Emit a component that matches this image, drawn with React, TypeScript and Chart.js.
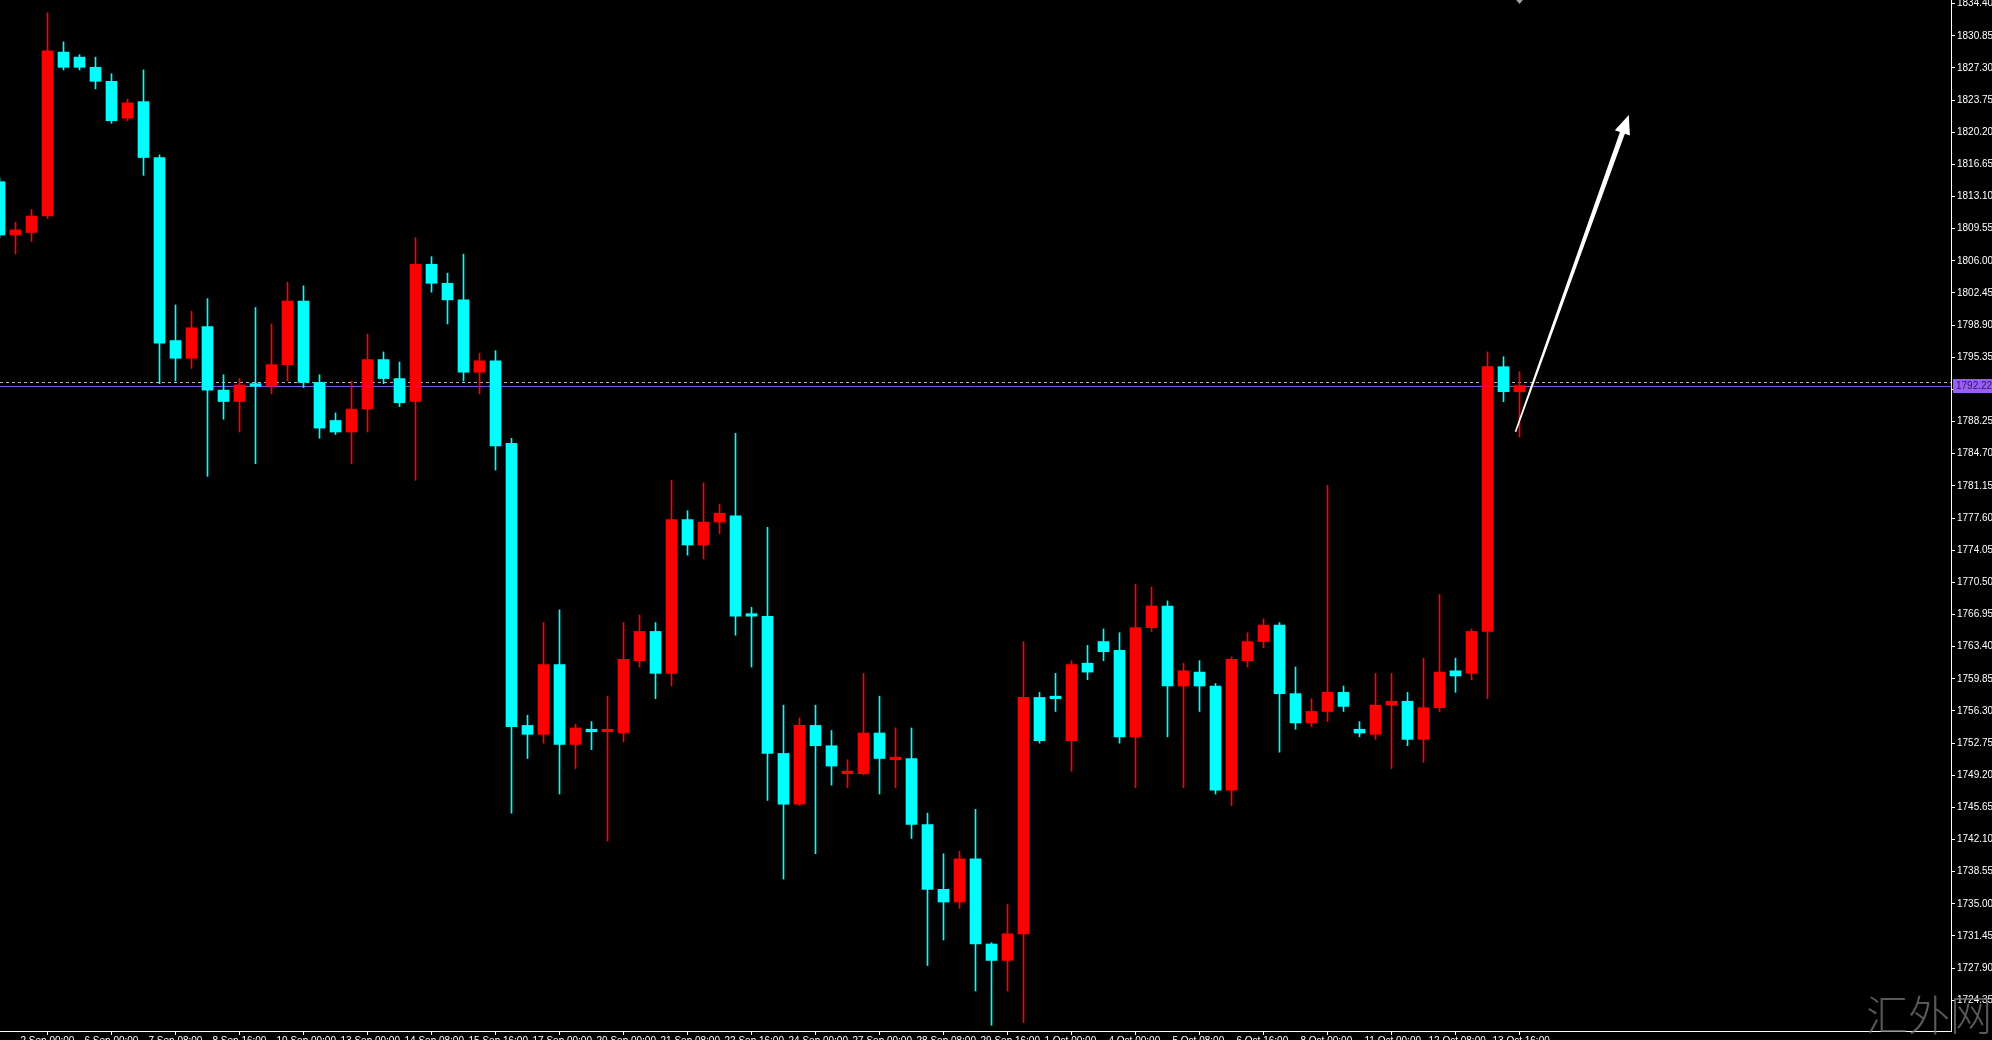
import React, { useEffect, useRef } from "react";
import { Chart, registerables } from "chart.js";

Chart.register(...registerables);

// ---- Data (H8 candles, XAUUSD-like) ----
const opens = [
  1814.74, 1808.85, 1809.13, 1810.95, 1829.05, 1828.49, 1827.37, 1825.82, 1821.75, 1823.58,
  1817.41, 1797.2, 1795.24, 1798.75, 1791.73, 1790.47, 1792.44, 1792.16, 1794.54, 1801.55,
  1792.58, 1788.37, 1787.1, 1789.63, 1795.1, 1793.0, 1790.47, 1805.62, 1803.52, 1801.69,
  1793.7, 1794.96, 1785.84, 1754.7, 1753.72, 1761.43, 1752.6, 1754.28, 1754.0, 1753.86,
  1761.85, 1765.08, 1760.45, 1777.43, 1774.62, 1777.15, 1777.85, 1767.04, 1766.76, 1751.61,
  1746.0, 1754.7, 1752.46, 1749.37, 1749.37, 1753.86, 1750.91, 1751.05, 1743.76, 1736.6,
  1735.2, 1739.97, 1730.57, 1728.75, 1731.69, 1757.79, 1757.93, 1753.02, 1761.57, 1763.96,
  1762.98, 1753.44, 1765.5, 1767.89, 1759.05, 1760.59, 1759.05, 1747.55, 1761.85, 1763.96,
  1765.78, 1758.21, 1754.98, 1756.24, 1758.35, 1754.28, 1753.72, 1756.94, 1757.37, 1753.16,
  1756.66, 1760.73, 1760.45, 1765.08, 1794.31, 1791.55,
];
const highs = [
  1815.16, 1810.25, 1811.65, 1833.4, 1830.17, 1828.77, 1828.49, 1826.66, 1823.86, 1827.08,
  1817.69, 1801.13, 1800.43, 1801.83, 1793.42, 1793.0, 1800.85, 1799.03, 1803.66, 1803.24,
  1793.42, 1789.21, 1792.72, 1797.91, 1795.94, 1794.82, 1808.57, 1806.46, 1804.64, 1806.74,
  1795.8, 1796.08, 1786.4, 1755.82, 1766.06, 1767.47, 1754.84, 1755.12, 1757.93, 1766.06,
  1766.9, 1766.06, 1781.77, 1778.41, 1781.49, 1779.11, 1786.96, 1767.75, 1776.58, 1756.94,
  1755.54, 1756.94, 1754.14, 1750.91, 1760.45, 1757.93, 1754.42, 1754.42, 1745.02, 1740.53,
  1740.81, 1745.44, 1730.71, 1734.92, 1763.96, 1758.35, 1760.45, 1761.85, 1763.54, 1765.36,
  1764.94, 1770.27, 1769.99, 1768.45, 1761.57, 1761.85, 1759.33, 1762.27, 1764.94, 1766.48,
  1766.06, 1761.15, 1757.65, 1781.21, 1759.05, 1755.12, 1760.45, 1760.45, 1758.35, 1762.13,
  1769.15, 1762.13, 1765.36, 1795.96, 1795.41, 1793.76,
];
const lows = [
  1808.57, 1806.74, 1808.15, 1810.67, 1827.08, 1827.08, 1824.98, 1821.19, 1821.47, 1815.44,
  1792.44, 1792.72, 1794.12, 1782.2, 1788.51, 1787.1, 1783.6, 1791.31, 1792.72, 1792.01,
  1786.4, 1786.82, 1783.6, 1787.1, 1792.44, 1789.91, 1781.77, 1802.54, 1799.03, 1792.72,
  1791.31, 1782.9, 1745.02, 1751.05, 1752.74, 1747.13, 1749.93, 1752.03, 1741.93, 1752.88,
  1761.15, 1757.65, 1759.05, 1773.5, 1773.08, 1775.88, 1764.66, 1761.15, 1746.42, 1737.73,
  1745.86, 1740.53, 1748.11, 1747.83, 1749.23, 1747.13, 1747.83, 1742.22, 1728.19, 1731.0,
  1734.5, 1725.38, 1721.59, 1725.38, 1721.87, 1752.74, 1756.24, 1749.65, 1759.75, 1761.85,
  1752.74, 1747.83, 1765.08, 1753.44, 1747.83, 1756.24, 1747.13, 1745.86, 1761.15, 1763.26,
  1751.75, 1754.28, 1754.56, 1755.12, 1756.24, 1753.44, 1753.16, 1749.93, 1752.46, 1750.63,
  1756.24, 1758.35, 1759.75, 1757.65, 1790.44, 1786.54,
];
const closes = [
  1808.85, 1809.41, 1810.95, 1829.19, 1827.37, 1827.37, 1825.82, 1821.47, 1823.44, 1817.41,
  1796.92, 1795.24, 1798.61, 1791.73, 1790.47, 1792.3, 1792.16, 1794.54, 1801.55, 1792.58,
  1787.53, 1787.1, 1789.63, 1795.1, 1793.0, 1790.33, 1805.62, 1803.52, 1801.69, 1793.7,
  1794.96, 1785.56, 1754.56, 1753.72, 1761.43, 1752.6, 1754.42, 1754.0, 1754.28, 1761.99,
  1765.08, 1760.45, 1777.43, 1774.62, 1777.15, 1778.13, 1766.76, 1766.76, 1751.61, 1746.0,
  1754.7, 1752.46, 1750.21, 1749.65, 1753.86, 1751.05, 1751.19, 1743.76, 1736.6, 1735.2,
  1739.97, 1730.57, 1728.75, 1731.69, 1757.79, 1753.02, 1757.65, 1761.43, 1760.59, 1762.84,
  1753.44, 1765.5, 1767.89, 1759.05, 1760.73, 1759.05, 1747.55, 1761.99, 1763.96, 1765.78,
  1758.21, 1754.98, 1756.24, 1758.35, 1756.8, 1753.86, 1756.94, 1757.37, 1753.16, 1756.66,
  1760.59, 1760.17, 1765.08, 1794.31, 1791.55, 1792.22,
];

const xTickIndex = [1, 5, 9, 13, 17, 21, 25, 29, 33, 37, 41, 45, 49, 53, 57, 61, 65, 69, 73, 77, 81, 85, 89, 93];
const xTickLabels = [
  "2 Sep 00:00", "6 Sep 00:00", "7 Sep 08:00", "8 Sep 16:00", "10 Sep 00:00", "13 Sep 00:00",
  "14 Sep 08:00", "15 Sep 16:00", "17 Sep 00:00", "20 Sep 00:00", "21 Sep 08:00", "22 Sep 16:00",
  "24 Sep 00:00", "27 Sep 00:00", "28 Sep 08:00", "29 Sep 16:00", "1 Oct 00:00", "4 Oct 00:00",
  "5 Oct 08:00", "6 Oct 16:00", "8 Oct 00:00", "11 Oct 00:00", "12 Oct 08:00", "13 Oct 16:00",
];
const yTickValues = [
  1724.35, 1727.9, 1731.45, 1735.0, 1738.55, 1742.1, 1745.65, 1749.2, 1752.75, 1756.3,
  1759.85, 1763.4, 1766.95, 1770.5, 1774.05, 1777.6, 1781.15, 1784.7, 1788.25, 1791.8,
  1795.35, 1798.9, 1802.45, 1806.0, 1809.55, 1813.1, 1816.65, 1820.2, 1823.75, 1827.3,
  1830.85, 1834.4,
];
const currentPrice = 1792.22;
const askPrice = 1792.6;
const arrowFrom = { x: 94.75, y: 1787.13 };
const arrowTo = { x: 101.83, y: 1822.1 };
const watermark = "汇外网";

const UP = "#ff0000";
const DOWN = "#00ffff";

export default function App() {
  const ref = useRef<HTMLCanvasElement | null>(null);

  useEffect(() => {
    if (!ref.current) return;
    const colors = closes.map((c, i) => (c >= opens[i] ? UP : DOWN));

    const overlay = {
      id: "mtOverlay",
      beforeDatasetsDraw(chart: any) {
        const { ctx, chartArea, scales } = chart;
        const ys = scales.y;
        ctx.save();
        // ask (dashed) line
        const ya = Math.round(ys.getPixelForValue(askPrice)) + 0.5;
        ctx.strokeStyle = "#b8b8b8";
        ctx.lineWidth = 1;
        ctx.setLineDash([3, 3]);
        ctx.beginPath();
        ctx.moveTo(chartArea.left, ya);
        ctx.lineTo(chartArea.right, ya);
        ctx.stroke();
        // bid line (purple)
        ctx.setLineDash([]);
        const yb = Math.round(ys.getPixelForValue(currentPrice)) + 0.5;
        ctx.strokeStyle = "#7f55e0";
        ctx.beginPath();
        ctx.moveTo(chartArea.left, yb);
        ctx.lineTo(chartArea.right, yb);
        ctx.stroke();
        ctx.restore();
      },
      afterDraw(chart: any) {
        const { ctx, chartArea, scales } = chart;
        const xs = scales.x;
        const ys = scales.y;
        ctx.save();
        // arrow
        const x0 = xs.getPixelForValue(arrowFrom.x);
        const y0 = ys.getPixelForValue(arrowFrom.y);
        const x1 = xs.getPixelForValue(arrowTo.x);
        const y1 = ys.getPixelForValue(arrowTo.y);
        const dx = x1 - x0;
        const dy = y1 - y0;
        const len = Math.hypot(dx, dy);
        const ux = dx / len;
        const uy = dy / len;
        const nx = -uy;
        const ny = ux;
        const headLen = 19;
        const bx = x1 - ux * headLen;
        const by = y1 - uy * headLen;
        const tailW = 0.8;
        const shaftW = 2.6;
        const headW = 8;
        ctx.fillStyle = "#ffffff";
        ctx.beginPath();
        ctx.moveTo(x0 + nx * tailW, y0 + ny * tailW);
        ctx.lineTo(bx + nx * shaftW, by + ny * shaftW);
        ctx.lineTo(bx + nx * headW, by + ny * headW);
        ctx.lineTo(x1, y1);
        ctx.lineTo(bx - nx * headW, by - ny * headW);
        ctx.lineTo(bx - nx * shaftW, by - ny * shaftW);
        ctx.lineTo(x0 - nx * tailW, y0 - ny * tailW);
        ctx.closePath();
        ctx.fill();

        // small marker at top
        const mx = xs.getPixelForValue(95);
        ctx.fillStyle = "#a0a0a0";
        ctx.beginPath();
        ctx.moveTo(mx - 5, chartArea.top - 2);
        ctx.lineTo(mx + 5, chartArea.top - 2);
        ctx.lineTo(mx, chartArea.top + 4);
        ctx.closePath();
        ctx.fill();

        // price label box
        const yb = ys.getPixelForValue(currentPrice);
        ctx.fillStyle = "#9a5ff2";
        ctx.fillRect(chartArea.right + 2, Math.round(yb) - 7, 42, 14);
        ctx.fillStyle = "#24185e";
        ctx.font = '10px "Liberation Sans"';
        ctx.textBaseline = "middle";
        ctx.textAlign = "left";
        ctx.fillText(currentPrice.toFixed(2), chartArea.right + 5, Math.round(yb) + 0.5);

        // watermark
        ctx.fillStyle = "rgba(120,120,120,0.75)";
        ctx.font = '300 42px "Noto Sans CJK SC"';
        ctx.textBaseline = "middle";
        ctx.textAlign = "left";
        ctx.fillText(watermark, 1866, 1015);
        ctx.restore();
      },
    };

    const xMin = 0.5 / 16;
    const xMax = xMin + 1951 / 16;

    const chart = new Chart(ref.current, {
      type: "bar",
      data: {
        datasets: [
          {
            label: "wick",
            data: lows.map((l, i) => ({ x: i, y: [l, highs[i]] })) as any,
            backgroundColor: colors,
            borderWidth: 0,
            barThickness: 1,
            grouped: false,
            order: 2,
          } as any,
          {
            label: "body",
            data: opens.map((o, i) => ({ x: i, y: [o, closes[i]] })) as any,
            backgroundColor: colors,
            borderWidth: 0,
            barThickness: 11,
            minBarLength: 2,
            grouped: false,
            order: 1,
          } as any,
        ],
      },
      options: {
        animation: false,
        responsive: false,
        devicePixelRatio: 1,
        layout: { padding: 0 },
        plugins: { legend: { display: false }, tooltip: { enabled: false } },
        scales: {
          x: {
            type: "linear",
            min: xMin,
            max: xMax,
            offset: false,
            border: { display: true, color: "#ffffff", width: 1 },
            grid: { display: true, drawOnChartArea: false, drawTicks: true, tickLength: 4, color: "#ffffff" },
            ticks: {
              color: "#ffffff",
              font: { family: "Liberation Sans", size: 10 },
              autoSkip: false,
              maxRotation: 0,
              minRotation: 0,
              align: "start",
              labelOffset: 5,
              padding: 0,
              callback: (v: any) => {
                const k = xTickIndex.indexOf(Number(v));
                return k >= 0 ? xTickLabels[k] : "";
              },
            },
            afterBuildTicks: (s: any) => {
              s.ticks = xTickIndex.map((v) => ({ value: v }));
            },
            afterFit: (s: any) => {
              s.height = 9;
              s.paddingLeft = 0;
              s.paddingRight = 0;
            },
          } as any,
          y: {
            type: "linear",
            position: "right",
            min: 1720.96,
            max: 1834.8,
            border: { display: true, color: "#ffffff", width: 1 },
            grid: { display: true, drawOnChartArea: false, drawTicks: true, tickLength: 4, color: "#ffffff" },
            ticks: {
              color: "#ffffff",
              font: { family: "Liberation Sans", size: 10 },
              padding: 2,
              autoSkip: false,
              callback: (v: any) => Number(v).toFixed(2),
            },
            afterBuildTicks: (s: any) => {
              s.ticks = yTickValues.map((v) => ({ value: v }));
            },
            afterFit: (s: any) => {
              s.width = 41;
              s.paddingTop = 0;
              s.paddingBottom = 0;
            },
          } as any,
        },
      },
      plugins: [overlay],
    });

    return () => chart.destroy();
  }, []);

  return (
    <div
      style={{
        position: "fixed",
        left: 0,
        top: 0,
        width: 1992,
        height: 1040,
        background: "#000000",
        overflow: "hidden",
      }}
    >
      <canvas ref={ref} width={1992} height={1040} style={{ display: "block", width: 1992, height: 1040 }} />
    </div>
  );
}
